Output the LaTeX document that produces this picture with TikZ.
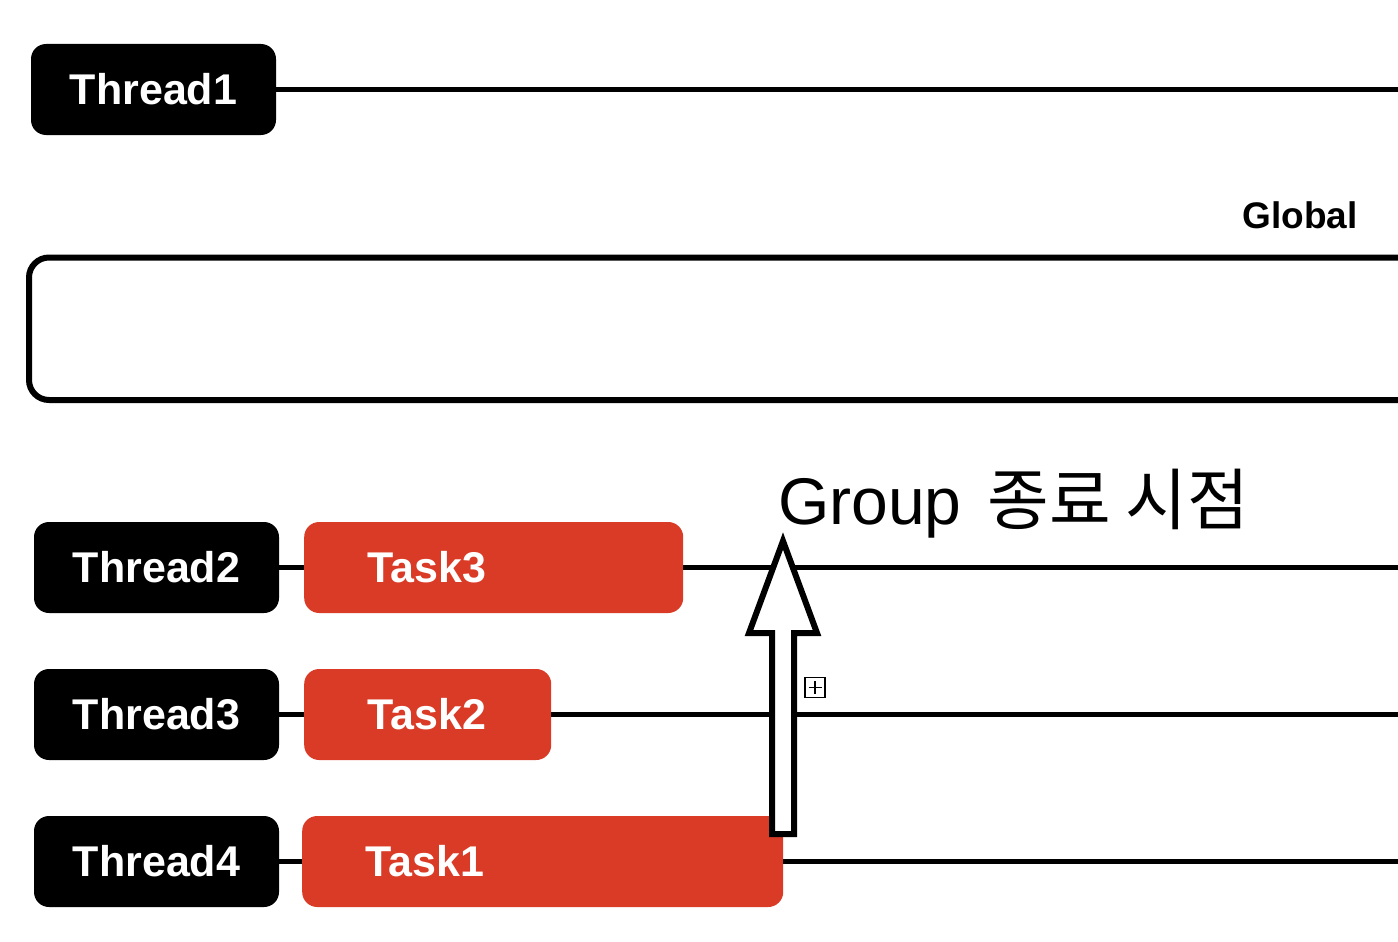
\documentclass[tikz,border=0pt]{standalone}
\usepackage{fontspec}
\setmainfont{Liberation Sans}
\newfontfamily\krfont{Noto Sans CJK KR}
\definecolor{taskred}{RGB}{218,59,38}
\begin{document}
\begin{tikzpicture}[x=1pt,y=-1pt,
    thread/.style={fill=black,text=white,rounded corners=15pt,minimum width=245pt,minimum height=91pt,inner sep=0pt,font=\fontsize{43}{50}\selectfont\bfseries},
    taskbox/.style={fill=taskred,text=white,rounded corners=15pt,minimum height=91pt,inner xsep=63pt,inner ysep=0pt,anchor=west,align=left,text width=#1,font=\fontsize{43}{50}\selectfont\bfseries},
    tline/.style={line width=5.5pt}]
  \useasboundingbox (0,0) rectangle (1398,942);
  \clip (0,0) rectangle (1398,942);
  \node[thread] (thread1) at (153.5,89.5) {Thread1};
  \node[thread] (thread2) at (156.5,567.5) {Thread2};
  \node[thread] (thread3) at (156.5,714.5) {Thread3};
  \node[thread] (thread4) at (156.5,861.5) {Thread4};
  \node[taskbox=253pt] (task3) at (304,567.5) {Task3};
  \node[taskbox=121pt] (task2) at (304,714.5) {Task2};
  \node[taskbox=355pt] (task1) at (302,861.5) {Task1};
  \coordinate (end1) at (1410,89.5);
  \coordinate (end2) at (1410,567.5);
  \coordinate (end3) at (1410,714.5);
  \coordinate (end4) at (1410,861.5);
  \begin{scope}[tline]
    \draw (thread1.east) -- (end1);
    \draw (thread2.east) -- (task3.west);
    \draw (task3.east) -- (end2);
    \draw (thread3.east) -- (task2.west);
    \draw (task2.east) -- (end3);
    \draw (thread4.east) -- (task1.west);
    \draw (task1.east) -- (end4);
  \end{scope}
  \draw[line width=6pt,rounded corners=20pt] (29,257.5) rectangle (1440,400);
  \node[font=\fontsize{37}{42}\selectfont\bfseries] (global) at (1300,215) {Global};
  \node[anchor=base west,inner sep=0pt] (groupend) at (778,524)
    {{\fontsize{66}{76}\selectfont Group}\hspace{26pt}{\krfont\fontsize{67}{76}\selectfont 종료 시점}};
  \draw[line width=6pt,fill=white,miter limit=10] (772,834) -- (772,633) -- (749,633) -- (783,541)
    -- (817,633) -- (794,633) -- (794,834) -- cycle;
  \draw[line width=1.8pt] (805,677.5) rectangle (825,697.5);
  \draw[line width=1.5pt] (808.5,687.5) -- (821.5,687.5) (815,681) -- (815,694);
\end{tikzpicture}
\end{document}
